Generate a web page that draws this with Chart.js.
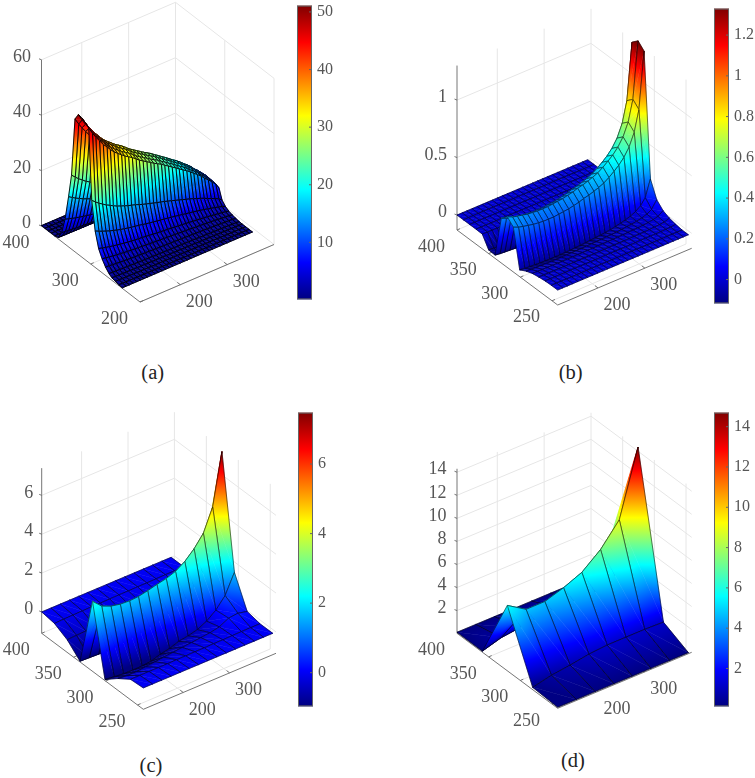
<!DOCTYPE html>
<html>
<head>
<meta charset="utf-8">
<title>Surfaces</title>
<script src="https://cdn.jsdelivr.net/npm/chart.js@4"></script>
<style>
    html, body { margin: 0; padding: 0; background: #fff; overflow: hidden; }
    #page { position: relative; width: 755px; height: 778px; overflow: hidden; }
    canvas { position: absolute; }
    .cap { position: absolute; font: 20.5px "Liberation Serif", "Times New Roman", Times, serif; color: #222; transform: translate(-50%, -50%); }
</style>
</head>
<body>
<div id="page"></div>
<script>
// panel (a)
const xsA = [114, 122, 129, 137, 145, 153, 160, 168, 176, 184, 191, 199, 207, 215, 222, 230, 238, 246, 253, 261, 269, 276, 284, 292, 300, 307, 315, 323, 331, 338, 346, 354, 361, 369, 377, 385, 392];
const ysA = [400, 393, 386, 380, 373, 366, 359, 352, 345, 339, 332, 325, 318, 311, 304, 298, 291, 284, 277, 270, 263, 257, 250, 243, 236];
const ridgeA = [50.5, 48, 46, 44, 42, 40.5, 39, 37.5, 36.3, 35.2, 34.2, 33.3, 32.4, 31.3, 30.3, 29.4, 28.5, 27.6, 26.8, 26, 25.2, 24.3, 23.4, 22.4, 21.5, 20.6, 19.6, 18.7, 17.6, 16.6, 15.5, 14.3, 13, 11.8, 10.4, 9, 7];
const wallA = [0, 0, 0, 0, 0, 0.01, 0.065, 0.18, 0.36, 0.53, 0.95, 1, 0.995, 0.98, 0.96, 0.46, 0.26, 0.154, 0.1, 0.06, 0.032, 0.018, 0.012, 0.006, 0];
const yTicksA = [400, 300, 200];
const zTicksA = [0, 20, 40, 60];
const barTicksA = [10, 20, 30, 40, 50];

// panel (b)
const xsB = [114, 125, 135, 146, 157, 168, 178, 189, 200, 211, 221, 232, 243, 254, 264, 275, 286, 296, 307, 318, 329, 339, 350, 361, 372, 382, 393];
const ysB = [400, 390, 380, 370, 360, 350, 340, 330, 320.5, 311, 301, 291, 281, 271, 261, 251, 241];
const ridgeB = [0.26, 0.24, 0.23, 0.22, 0.21, 0.205, 0.2, 0.2, 0.2, 0.205, 0.21, 0.215, 0.225, 0.235, 0.25, 0.26, 0.275, 0.29, 0.31, 0.34, 0.375, 0.41, 0.46, 0.53, 0.64, 0.82, 1.31];
const wallB = [0, 0, 0, 0, 0.05, 0.2, 0.3, 1, 1, 1, 0.295, 0.133, 0.062, 0.029, 0.01, 0, 0];
const offsetB = [0, 0, 0, 0, -0.015, -0.15, -0.18, 0, 0.05, 0, -0.147, -0.075, -0.036, -0.0175, -0.005, 0, 0];
const zTicksB = [0, 0.5, 1];
const barTicksB = [0, 0.2, 0.4, 0.6, 0.8, 1, 1.2];

// panel (c)
const xsC = [114, 134, 154, 174, 194, 213, 233, 253, 273, 293, 313, 333, 353, 373, 393];
const ysC = [400, 380, 360, 340, 320.5, 301, 281, 261, 241];
const zC = [
    [0, 0, 0, 0, 0, 0, 0, 0, 0, 0, 0, 0, 0, 0, 0],
    [-0.1, -0.08, -0.07, -0.06, -0.05, -0.05, -0.04, -0.03, -0.03, -0.02, -0.02, -0.01, 0, 0, 0],
    [-0.45, -0.42, -0.4, -0.36, -0.32, -0.28, -0.24, -0.2, -0.16, -0.12, -0.1, -0.08, -0.04, 0, 0.02],
    [-1.06, -1.08, -1.1, -1.1, -1.08, -1.02, -0.95, -0.85, -0.7, -0.6, -0.48, -0.25, 0.12, 0.67, 1.66],
    [2.5, 2.05, 1.85, 1.75, 1.72, 1.75, 1.85, 1.97, 2.07, 2.24, 2.55, 3, 3.6, 4.75, 7.4],
    [-1.04, -1.1, -1.15, -1.16, -1.15, -1.1, -0.95, -0.85, -0.68, -0.6, -0.48, -0.25, 0.12, 0.67, 1.66],
    [-0.5, -0.55, -0.55, -0.5, -0.45, -0.4, -0.35, -0.3, -0.25, -0.2, -0.15, -0.05, 0.2, 0.25, 0.14],
    [-0.05, -0.05, -0.05, -0.05, -0.05, -0.04, -0.04, -0.03, -0.03, -0.02, -0.02, -0.01, 0, 0, 0],
    [0, 0, 0, 0, 0, 0, 0, 0, 0, 0, 0, 0, 0, 0, 0],
];
const zTicksC = [0, 2, 4, 6];
const barTicksC = [0, 2, 4, 6];

// panel (d)
const xsD = [114, 154, 194, 234, 273, 313, 353, 393];
const ysD = [400, 360, 320.5, 280.5, 241];
const zD = [
    [0.12, 0.12, 0.12, 0.12, 0.12, 0.12, 0.12, 0.12],
    [0.12, 0.6, 0.8, 1.07, 1.2, 1.2, 1.2, 1.15],
    [5.7, 4.68, 4.68, 5.2, 5.87, 7.17, 9.07, 14.7],
    [0.23, 0.6, 0.8, 1.07, 1.2, 1.2, 1.2, 1.15],
    [0.12, 0.12, 0.12, 0.12, 0.12, 0.12, 0.12, 0.12],
];
const zTicksD = [2, 4, 6, 8, 10, 12, 14];
const barTicksD = [2, 4, 6, 8, 10, 12, 14];

const xTicks = [200, 300];
const yTicks = [400, 350, 300, 250];

const SERIF = '"Liberation Serif", "Times New Roman", Times, serif';
const TEXT_COLOR = '#565656';
const GRID_COLOR = '#e6e6e6';
const AXIS_COLOR = '#666666';

function jet(t) {
    const clamp = v => Math.max(0, Math.min(1, v));
    t = clamp(t);
    const r = clamp(1.5 - Math.abs(4 * t - 3));
    const g = clamp(1.5 - Math.abs(4 * t - 2));
    const b = clamp(1.5 - Math.abs(4 * t - 1));
    return `rgb(${Math.round(r * 255)},${Math.round(g * 255)},${Math.round(b * 255)})`;
}

const JET_KNOTS = [0, 1 / 8, 3 / 8, 5 / 8, 7 / 8, 1];

function project(p, x, y, z) {
    const a = (x - p.xMin) / (p.xMax - p.xMin);
    const b = (p.yMax - y) / (p.yMax - p.yMin);
    return {
        x: p.L[0] + a * (p.R[0] - p.F[0]) + b * (p.F[0] - p.L[0]),
        y: p.L[1] + a * (p.R[1] - p.F[1]) + b * (p.F[1] - p.L[1]) - (z - p.zFloor) * p.zPx,
    };
}

// one triangle of a facet, colour follows z across the plane of the triangle
function fillTriangle(ctx, p, A, B, C, za, zb, zc) {
    const span = p.cMax - p.cMin;
    const det = (B.x - A.x) * (C.y - A.y) - (C.x - A.x) * (B.y - A.y);
    if (Math.abs(det) < 0.001) return;
    const d1 = zb - za;
    const d2 = zc - za;
    const gx = (d1 * (C.y - A.y) - d2 * (B.y - A.y)) / det;
    const gy = ((B.x - A.x) * d2 - (C.x - A.x) * d1) / det;
    const g2 = gx * gx + gy * gy;
    const lo = Math.min(za, zb, zc);
    const hi = Math.max(za, zb, zc);
    let style;
    if (g2 < 1e-12 || hi - lo < span * 0.002) {
        style = jet(((za + zb + zc) / 3 - p.cMin) / span);
    } else {
        style = ctx.createLinearGradient(
            A.x + gx * (lo - za) / g2, A.y + gy * (lo - za) / g2,
            A.x + gx * (hi - za) / g2, A.y + gy * (hi - za) / g2
        );
        style.addColorStop(0, jet((lo - p.cMin) / span));
        JET_KNOTS.forEach(k => {
            const v = p.cMin + k * span;
            if (v > lo && v < hi) style.addColorStop((v - lo) / (hi - lo), jet(k));
        });
        style.addColorStop(1, jet((hi - p.cMin) / span));
    }
    ctx.fillStyle = style;
    ctx.strokeStyle = style;
    ctx.lineWidth = 0.5;
    ctx.beginPath();
    ctx.moveTo(A.x, A.y);
    ctx.lineTo(B.x, B.y);
    ctx.lineTo(C.x, C.y);
    ctx.closePath();
    ctx.fill();
    ctx.stroke();
}

const surfacePlugin = {
    id: 'surface',
    beforeDatasetsDraw(chart) {
        const p = chart.options.plugins.surface.panel;
        const ctx = chart.ctx;
        const sx = chart.scales.x;
        const sy = chart.scales.y;
        const pos = (x, y, z) => {
            const q = project(p, x, y, z);
            return { x: sx.getPixelForValue(q.x), y: sy.getPixelForValue(q.y) };
        };
        const line = (a, b) => {
            ctx.beginPath();
            ctx.moveTo(a.x, a.y);
            ctx.lineTo(b.x, b.y);
            ctx.stroke();
        };

        ctx.save();
        // back walls and floor grid
        ctx.strokeStyle = GRID_COLOR;
        ctx.lineWidth = 1;
        p.zTicks.forEach(z => {
            line(pos(p.xMin, p.yMax, z), pos(p.xMax, p.yMax, z));
            line(pos(p.xMax, p.yMax, z), pos(p.xMax, p.yMin, z));
        });
        xTicks.forEach(x => {
            line(pos(x, p.yMax, p.zFloor), pos(x, p.yMax, p.zTop));
            line(pos(x, p.yMax, p.zFloor), pos(x, p.yMin, p.zFloor));
        });
        p.yTicks.forEach(y => {
            line(pos(p.xMax, y, p.zFloor), pos(p.xMax, y, p.zTop));
            line(pos(p.xMin, y, p.zFloor), pos(p.xMax, y, p.zFloor));
        });

        // axis lines with their ticks
        ctx.strokeStyle = AXIS_COLOR;
        ctx.lineWidth = 0.9;
        line(pos(p.xMin, p.yMax, p.zFloor), pos(p.xMin, p.yMax, p.zTop));
        line(pos(p.xMin, p.yMax, p.zFloor), pos(p.xMin, p.yMin, p.zFloor));
        line(pos(p.xMin, p.yMin, p.zFloor), pos(p.xMax, p.yMin, p.zFloor));
        p.zTicks.forEach(z => {
            const a = pos(p.xMin, p.yMax, z);
            line(a, { x: a.x - 2.5, y: a.y - 1 });
        });
        xTicks.forEach(x => {
            const a = pos(x, p.yMin, p.zFloor);
            line(a, { x: a.x - 3, y: a.y - 2.3 });
        });
        p.yTicks.forEach(y => {
            const a = pos(p.xMin, y, p.zFloor);
            line(a, { x: a.x + 3, y: a.y - 1.3 });
        });

        // facets, far corner first
        const pts = chart.getDatasetMeta(0).data;
        const nx = p.xs.length;
        for (let j = 0; j < p.ys.length - 1; j++) {
            for (let i = nx - 2; i >= 0; i--) {
                const k00 = j * nx + i;
                const k01 = k00 + 1;
                const k10 = k00 + nx;
                const k11 = k10 + 1;
                const a = pts[k00], b = pts[k01], c = pts[k11], d = pts[k10];
                const za = p.z[j][i], zb = p.z[j][i + 1], zc = p.z[j + 1][i + 1], zd = p.z[j + 1][i];
                fillTriangle(ctx, p, a, b, c, za, zb, zc);
                fillTriangle(ctx, p, a, c, d, za, zc, zd);
                ctx.strokeStyle = p.edge;
                ctx.lineWidth = p.edgeWidth;
                ctx.beginPath();
                ctx.moveTo(a.x, a.y);
                ctx.lineTo(b.x, b.y);
                ctx.lineTo(c.x, c.y);
                ctx.lineTo(d.x, d.y);
                ctx.closePath();
                ctx.stroke();
            }
        }

        // tick labels
        ctx.font = '18px ' + SERIF;
        ctx.fillStyle = TEXT_COLOR;
        ctx.textBaseline = 'middle';
        ctx.textAlign = 'right';
        p.zTicks.forEach(z => {
            const a = pos(p.xMin, p.yMax, z);
            ctx.fillText(String(z), a.x - p.zLabelGap, a.y - 2.5);
        });
        ctx.textAlign = 'center';
        xTicks.forEach(x => {
            const a = pos(x, p.yMin, p.zFloor);
            ctx.fillText(String(x), a.x + 19, a.y + 17.5);
        });
        p.yTicks.forEach(y => {
            const a = pos(p.xMin, y, p.zFloor);
            ctx.fillText(String(y), a.x - 25.5, a.y + 17);
        });
        ctx.restore();
    },
};

const barFramePlugin = {
    id: 'barFrame',
    afterDatasetsDraw(chart) {
        const ctx = chart.ctx;
        const a = chart.chartArea;
        const sy = chart.scales.y;
        ctx.save();
        ctx.strokeStyle = AXIS_COLOR;
        ctx.lineWidth = 1;
        ctx.strokeRect(a.left + 0.5, a.top + 0.5, a.right - a.left - 1, a.bottom - a.top - 1);
        sy.ticks.forEach(t => {
            const y = sy.getPixelForValue(t.value);
            ctx.beginPath();
            ctx.moveTo(a.right - 3, y);
            ctx.lineTo(a.right, y);
            ctx.stroke();
        });
        ctx.restore();
    },
};

function addCanvas(left, top, width, height) {
    const c = document.createElement('canvas');
    c.width = width;
    c.height = height;
    c.style.left = left + 'px';
    c.style.top = top + 'px';
    c.style.width = width + 'px';
    c.style.height = height + 'px';
    document.getElementById('page').appendChild(c);
    return c;
}

function drawSurface(p) {
    const [left, top, width, height] = p.box;
    const mesh = [];
    p.ys.forEach((y, j) => {
        p.xs.forEach((x, i) => {
            mesh.push(project(p, x, y, p.z[j][i]));
        });
    });
    new Chart(addCanvas(left, top, width, height), {
        type: 'scatter',
        data: { datasets: [{ data: mesh, pointRadius: 0, showLine: false }] },
        options: {
            responsive: false,
            animation: false,
            events: [],
            layout: { padding: 0 },
            plugins: { legend: { display: false }, tooltip: { enabled: false }, surface: { panel: p } },
            scales: {
                x: { type: 'linear', display: false, min: left, max: left + width },
                y: { type: 'linear', display: false, min: top, max: top + height, reverse: true },
            },
        },
        plugins: [surfacePlugin],
    });
}

function drawColorbar(p) {
    const [left, top, width, height] = p.bar;
    new Chart(addCanvas(left, top - 12, width + 26, height + 24), {
        type: 'bar',
        data: {
            labels: [''],
            datasets: [{
                data: [[p.cMin, p.cMax]],
                barPercentage: 1,
                categoryPercentage: 1,
                backgroundColor: ctx => {
                    const area = ctx.chart.chartArea;
                    if (!area) return '#00f';
                    const g = ctx.chart.ctx.createLinearGradient(0, area.bottom, 0, area.top);
                    JET_KNOTS.forEach(k => g.addColorStop(k, jet(k)));
                    return g;
                },
            }],
        },
        options: {
            responsive: false,
            animation: false,
            events: [],
            layout: { padding: { top: 12, bottom: 12 } },
            plugins: { legend: { display: false }, tooltip: { enabled: false } },
            scales: {
                x: { display: false },
                y: {
                    position: 'right',
                    min: p.cMin,
                    max: p.cMax,
                    grid: { display: false, drawTicks: false },
                    border: { display: false },
                    afterBuildTicks: s => { s.ticks = p.barTicks.map(v => ({ value: v })); },
                    afterFit: s => { s.width = 26; },
                    ticks: {
                        autoSkip: false,
                        padding: 5,
                        color: TEXT_COLOR,
                        font: { family: SERIF, size: 16 },
                        callback: v => String(v),
                    },
                },
            },
        },
        plugins: [barFramePlugin],
    });
}

function addCaption(text, x, y) {
    const d = document.createElement('div');
    d.className = 'cap';
    d.textContent = text;
    d.style.left = x + 'px';
    d.style.top = y + 'px';
    document.getElementById('page').appendChild(d);
}

const zA = ysA.map((_, j) => ridgeA.map(v => Math.max(0.15, wallA[j] * v)));
const zB = ysB.map((_, j) => ridgeB.map(v => offsetB[j] + wallB[j] * v));

const panels = [
    {
        xs: xsA, ys: ysA, z: zA, yTicks: yTicksA, zTicks: zTicksA, barTicks: barTicksA,
        xMin: 114, xMax: 400, yMin: 200, yMax: 400, zFloor: 0, zTop: 60, zPx: 2.77,
        L: [41.5, 226], F: [140, 302], R: [274, 244.5], zLabelGap: 10.5,
        cMin: 0.1, cMax: 51.1, edge: '#000', edgeWidth: 0.9,
        box: [0, 0, 295, 335], bar: [297, 3, 15, 299],
    },
    {
        xs: xsB, ys: ysB, z: zB, yTicks: yTicks, zTicks: zTicksB, barTicks: barTicksB,
        xMin: 114, xMax: 400, yMin: 241, yMax: 400, zFloor: -0.13, zTop: 1.3, zPx: 115,
        L: [457, 230], F: [557.7, 305], R: [691.7, 248.3], zLabelGap: 10,
        cMin: -0.117, cMax: 1.33, edge: 'rgba(0,0,0,0.75)', edgeWidth: 0.7,
        box: [418, 0, 295, 335], bar: [714, 6, 15, 300],
    },
    {
        xs: xsC, ys: ysC, z: zC, yTicks: yTicks, zTicks: zTicksC, barTicks: barTicksC,
        xMin: 114, xMax: 400, yMin: 241, yMax: 400, zFloor: -1.1, zTop: 7.4, zPx: 19.43,
        L: [41.7, 633.3], F: [143.3, 709.3], R: [276, 653.3], zLabelGap: 8.5,
        cMin: -0.97, cMax: 7.48, edge: 'rgba(0,0,0,0.75)', edgeWidth: 0.7,
        box: [0, 400, 295, 335], bar: [298, 410, 15, 299],
    },
    {
        xs: xsD, ys: ysD, z: zD, yTicks: yTicks, zTicks: zTicksD, barTicks: barTicksD,
        xMin: 114, xMax: 400, yMin: 241, yMax: 400, zFloor: 0.03, zTop: 14.3, zPx: 11.53,
        L: [457, 633.3], F: [557.7, 708.3], R: [691.7, 652.3], zLabelGap: 10.5,
        cMin: 0.117, cMax: 14.7, edge: 'rgba(0,0,0,0.75)', edgeWidth: 0.7,
        box: [418, 400, 295, 335], bar: [714, 410, 15, 299],
    },
];

panels.forEach(p => {
    drawSurface(p);
    drawColorbar(p);
});

addCaption('(a)', 152.7, 371.7);
addCaption('(b)', 570.7, 371.7);
addCaption('(c)', 151, 765);
addCaption('(d)', 573, 760);
</script>
</body>
</html>
